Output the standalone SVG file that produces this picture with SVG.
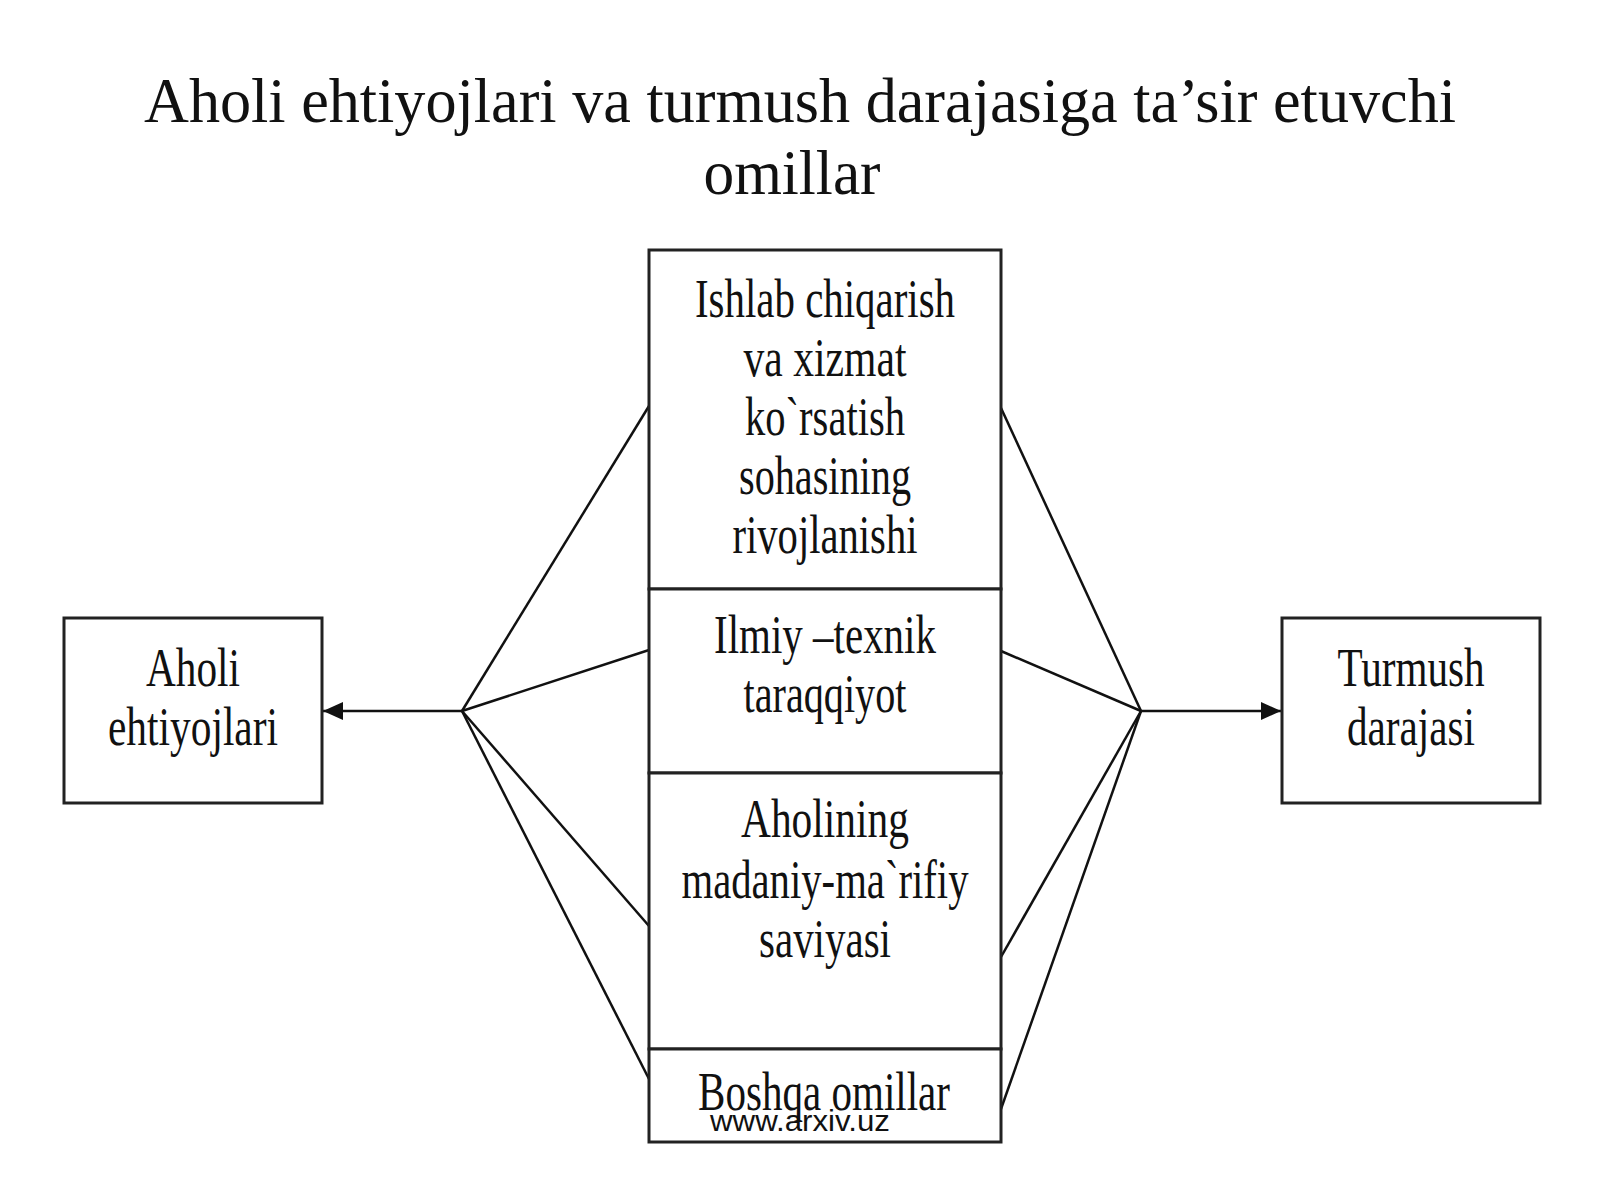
<svg xmlns="http://www.w3.org/2000/svg" width="1600" height="1200" viewBox="0 0 1600 1200">
<defs>
<style>
.box{fill:#fff;stroke:#222;stroke-width:3}
.t{font-family:"Liberation Serif","Times New Roman",serif;font-size:54px;fill:#111;text-anchor:middle}
.title{font-family:"Liberation Serif","Times New Roman",serif;font-size:64px;fill:#111;text-anchor:middle}
.ln{stroke:#111;stroke-width:2.5;fill:none}
.wm{font-family:"Liberation Sans",Arial,sans-serif;font-size:30px;fill:#111;text-anchor:middle}
</style>
<marker id="ah" viewBox="0 0 10 10" refX="10" refY="5" markerWidth="7" markerHeight="7" markerUnits="userSpaceOnUse" orient="auto">
<path d="M0,0 L10,5 L0,10 z" fill="#111"/>
</marker>
<marker id="arr" viewBox="0 0 20 20" refX="20" refY="10" markerWidth="20" markerHeight="20" markerUnits="userSpaceOnUse" orient="auto">
<path d="M0,1 L20,10 L0,19 z" fill="#111"/>
</marker>
</defs>
<rect width="1600" height="1200" fill="#fff"/>
<g id="title">
<text class="title" x="800" y="122" textLength="1312" lengthAdjust="spacingAndGlyphs">Aholi ehtiyojlari va turmush darajasiga ta’sir etuvchi</text>
<text class="title" x="792" y="194" textLength="177" lengthAdjust="spacingAndGlyphs">omillar</text>
</g>
<g id="connectors">
<line class="ln" x1="462" y1="711" x2="649" y2="406"/>
<line class="ln" x1="462" y1="711" x2="649" y2="650"/>
<line class="ln" x1="462" y1="711" x2="649" y2="926"/>
<line class="ln" x1="462" y1="711" x2="649" y2="1079"/>
<line class="ln" x1="462" y1="711" x2="323" y2="711" marker-end="url(#arr)"/>
<line class="ln" x1="1141" y1="711" x2="1001" y2="408"/>
<line class="ln" x1="1141" y1="711" x2="1001" y2="651"/>
<line class="ln" x1="1141" y1="711" x2="1001" y2="957"/>
<line class="ln" x1="1141" y1="711" x2="1001" y2="1109"/>
<line class="ln" x1="1141" y1="711" x2="1281" y2="711" marker-end="url(#arr)"/>
</g>
<g id="node-production">
<rect class="box" x="649" y="250" width="352" height="339"/>
<text class="t" x="825" y="317" textLength="260" lengthAdjust="spacingAndGlyphs">Ishlab chiqarish</text>
<text class="t" x="825" y="376" textLength="163" lengthAdjust="spacingAndGlyphs">va xizmat</text>
<text class="t" x="825" y="435" textLength="160" lengthAdjust="spacingAndGlyphs">ko`rsatish</text>
<text class="t" x="825" y="494" textLength="172" lengthAdjust="spacingAndGlyphs">sohasining</text>
<text class="t" x="825" y="553" textLength="185" lengthAdjust="spacingAndGlyphs">rivojlanishi</text>
</g>
<g id="node-science">
<rect class="box" x="649" y="589" width="352" height="184"/>
<text class="t" x="825" y="653" textLength="222" lengthAdjust="spacingAndGlyphs">Ilmiy –texnik</text>
<text class="t" x="825" y="712" textLength="163" lengthAdjust="spacingAndGlyphs">taraqqiyot</text>
</g>
<g id="node-culture">
<rect class="box" x="649" y="773" width="352" height="276"/>
<text class="t" x="825" y="837" textLength="168" lengthAdjust="spacingAndGlyphs">Aholining</text>
<text class="t" x="825" y="898" textLength="287" lengthAdjust="spacingAndGlyphs">madaniy-ma`rifiy</text>
<text class="t" x="825" y="957" textLength="132" lengthAdjust="spacingAndGlyphs">saviyasi</text>
</g>
<g id="node-other">
<rect class="box" x="649" y="1049" width="352" height="93"/>
<text class="t" x="824" y="1110" textLength="252" lengthAdjust="spacingAndGlyphs">Boshqa omillar</text>
<text class="wm" x="800" y="1131" textLength="180" lengthAdjust="spacingAndGlyphs">www.arxiv.uz</text>
</g>
<g id="node-needs">
<rect class="box" x="64" y="618" width="258" height="185"/>
<text class="t" x="193" y="686" textLength="94" lengthAdjust="spacingAndGlyphs">Aholi</text>
<text class="t" x="193" y="745" textLength="170" lengthAdjust="spacingAndGlyphs">ehtiyojlari</text>
</g>
<g id="node-living">
<rect class="box" x="1282" y="618" width="258" height="185"/>
<text class="t" x="1411" y="686" textLength="147" lengthAdjust="spacingAndGlyphs">Turmush</text>
<text class="t" x="1411" y="745" textLength="128" lengthAdjust="spacingAndGlyphs">darajasi</text>
</g>
</svg>
